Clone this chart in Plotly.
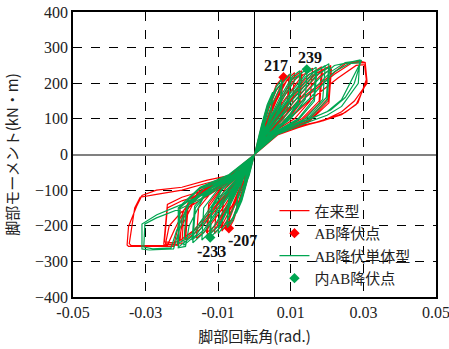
import plotly.graph_objects as go

# Hysteresis loops: (rotation angle [rad], moment [kN·m])
red_loop = [
    (0,0),(0.0015,60),(0.003,105),(0.0027,70),(0.0012,30),(0,0),(-0.0015,-55),(-0.003,-95),(-0.0027,-65),(-0.0012,-28),(0,0),
    (0.002,80),(0.0035,135),(0.005,170),(0.0046,115),(0.003,65),(0.0012,30),(0,0),(-0.002,-70),(-0.0035,-125),(-0.005,-160),(-0.0046,-110),(-0.003,-60),(-0.0012,-28),(0,0),
    (0.002,70),(0.004,140),(0.006,195),(0.0078,217),(0.0074,140),(0.006,100),(0.003,55),(0,0),(-0.002,-60),(-0.004,-130),(-0.0058,-185),(-0.007,-207),(-0.0067,-130),(-0.005,-90),(-0.0025,-50),(0,0),
    (0.002,65),(0.004,130),(0.006,180),(0.0078,205),(0.0073,135),(0.0058,95),(0.003,52),(0,0),(-0.002,-58),(-0.004,-122),(-0.0058,-175),(-0.0071,-198),(-0.0067,-125),(-0.005,-86),(-0.0025,-48),(0,0),
    (0.002,60),(0.005,140),(0.0075,200),(0.0095,224),(0.009,140),(0.007,100),(0.004,62),(0,0),(-0.002,-55),(-0.005,-130),(-0.0072,-190),(-0.009,-215),(-0.0086,-135),(-0.0065,-92),(-0.003,-55),(0,0),
    (0.002,57),(0.005,132),(0.0075,190),(0.0096,216),(0.0091,132),(0.007,95),(0.004,58),(0,0),(-0.002,-52),(-0.005,-122),(-0.0072,-180),(-0.0091,-208),(-0.0087,-128),(-0.0065,-88),(-0.003,-52),(0,0),
    (0.003,75),(0.006,150),(0.009,210),(0.011,230),(0.0105,145),(0.008,100),(0.004,60),(0,0),(-0.003,-65),(-0.006,-140),(-0.009,-200),(-0.011,-222),(-0.0105,-140),(-0.008,-95),(-0.004,-58),(0,0),
    (0.003,70),(0.007,150),(0.0105,215),(0.013,235),(0.0124,150),(0.009,100),(0.004,60),(0,0),(-0.003,-62),(-0.007,-140),(-0.0105,-205),(-0.013,-228),(-0.0125,-145),(-0.009,-95),(-0.004,-58),(0,0),
    (0.003,66),(0.007,142),(0.0105,205),(0.0131,226),(0.0125,142),(0.009,95),(0.004,57),(0,0),(-0.003,-58),(-0.007,-132),(-0.0105,-196),(-0.0132,-220),(-0.0126,-138),(-0.009,-90),(-0.004,-55),(0,0),
    (0.003,65),(0.008,150),(0.013,220),(0.016,242),(0.0153,150),(0.011,100),(0.005,62),(0,0),(-0.003,-58),(-0.008,-140),(-0.013,-210),(-0.016,-235),(-0.0154,-150),(-0.011,-95),(-0.005,-58),(0,0),
    (0.003,60),(0.009,150),(0.015,225),(0.0185,246),(0.0178,150),(0.013,100),(0.006,62),(0,0),(-0.003,-55),(-0.009,-135),(-0.015,-210),(-0.019,-240),(-0.0183,-150),(-0.013,-95),(-0.006,-58),(0,0),
    (0.003,57),(0.009,142),(0.015,215),(0.0187,238),(0.018,145),(0.013,95),(0.006,60),(0,0),(-0.003,-52),(-0.009,-128),(-0.015,-202),(-0.0192,-232),(-0.0185,-145),(-0.013,-90),(-0.006,-55),(0,0),
    (0.003,55),(0.01,150),(0.017,228),(0.021,250),(0.0205,160),(0.015,100),(0.007,65),(0,0),(-0.003,-52),(-0.01,-135),(-0.017,-215),(-0.021,-245),(-0.0205,-150),(-0.015,-95),(-0.007,-58),(0,0),
    (0.003,50),(0.011,150),(0.018,230),(0.021,248),(0.0203,150),(0.015,95),(0.007,62),(0,0),(-0.003,-50),(-0.012,-110),(-0.02,-160),(-0.0235,-200),(-0.0245,-250),(-0.022,-252),(-0.02,-250),(-0.0195,-170),(-0.015,-105),(-0.007,-62),(0,0),
    (0.003,48),(0.011,140),(0.018,220),(0.0212,240),(0.0205,145),(0.015,92),(0.007,60),(0,0),(-0.003,-48),(-0.012,-105),(-0.02,-130),(-0.024,-150),(-0.0248,-245),(-0.022,-248),(-0.0205,-240),(-0.0198,-160),(-0.015,-100),(-0.007,-60),(0,0),
    (0.004,55),(0.012,150),(0.02,215),(0.025,255),(0.029,262),(0.0305,258),(0.031,200),(0.0275,150),(0.024,120),(0.02,100),(0.012,75),(0.005,50),(0,0),
    (-0.004,-50),(-0.012,-95),(-0.02,-120),(-0.024,-140),(-0.025,-252),(-0.021,-255),(-0.02,-200),(-0.016,-120),(-0.008,-70),(0,0),
    (0.005,60),(0.014,160),(0.022,225),(0.027,258),(0.0305,257),(0.031,205),(0.028,140),(0.024,112),(0.018,92),(0.01,72),(0.004,45),(0,0),
    (-0.005,-55),(-0.013,-72),(-0.02,-92),(-0.027,-100),(-0.031,-115),(-0.0325,-146),(-0.0347,-202),(-0.0351,-254),(-0.0347,-258),(-0.028,-258),(-0.0223,-258),(-0.021,-200),(-0.017,-120),(-0.01,-75),(-0.004,-45),(0,0),
    (0.005,58),(0.015,150),(0.023,215),(0.028,250),(0.0303,252),(0.0308,210),(0.0285,145),(0.025,118),(0.019,95),(0.01,75),(0.004,45),(0,0),
    (-0.005,-60),(-0.013,-80),(-0.02,-100),(-0.027,-112),(-0.0315,-120),(-0.033,-150),(-0.0345,-250),(-0.034,-255),(-0.03,-256),(-0.024,-255),(-0.022,-210),(-0.018,-130),(-0.01,-78),(-0.004,-45),(0,0),
]

green_loop = [
    (0,0),(0.0015,65),(0.003,110),(0.0027,75),(0.0012,32),(0,0),(-0.0015,-60),(-0.003,-100),(-0.0027,-70),(-0.0012,-30),(0,0),
    (0.002,85),(0.0035,140),(0.005,175),(0.0046,120),(0.003,70),(0.0012,32),(0,0),(-0.002,-75),(-0.0035,-130),(-0.005,-165),(-0.0046,-115),(-0.003,-65),(-0.0012,-30),(0,0),
    (0.002,75),(0.004,145),(0.006,190),(0.0075,210),(0.007,135),(0.005,95),(0.0025,55),(0,0),(-0.002,-65),(-0.004,-135),(-0.006,-185),(-0.0075,-205),(-0.007,-130),(-0.005,-90),(-0.0025,-50),(0,0),
    (0.002,70),(0.004,135),(0.006,182),(0.0076,202),(0.0071,128),(0.005,90),(0.0025,52),(0,0),(-0.002,-62),(-0.004,-128),(-0.006,-178),(-0.0076,-198),(-0.0071,-125),(-0.005,-86),(-0.0025,-48),(0,0),
    (0.002,65),(0.005,145),(0.008,205),(0.01,228),(0.0095,145),(0.007,100),(0.0035,60),(0,0),(-0.002,-60),(-0.005,-135),(-0.008,-195),(-0.01,-222),(-0.0095,-140),(-0.007,-95),(-0.0035,-55),(0,0),
    (0.003,75),(0.007,160),(0.0105,220),(0.0125,235),(0.012,150),(0.009,100),(0.004,60),(0,0),(-0.003,-65),(-0.007,-150),(-0.010,-210),(-0.0122,-233),(-0.0117,-150),(-0.009,-100),(-0.004,-58),(0,0),
    (0.003,70),(0.007,150),(0.0105,212),(0.0127,226),(0.0121,145),(0.009,96),(0.004,58),(0,0),(-0.003,-62),(-0.007,-142),(-0.010,-202),(-0.0124,-225),(-0.0118,-145),(-0.009,-95),(-0.004,-55),(0,0),
    (0.003,70),(0.008,160),(0.012,222),(0.0145,240),(0.014,155),(0.010,100),(0.005,62),(0,0),(-0.003,-62),(-0.008,-150),(-0.012,-215),(-0.0145,-240),(-0.014,-150),(-0.010,-97),(-0.005,-58),(0,0),
    (0.003,65),(0.009,160),(0.014,225),(0.017,245),(0.0163,155),(0.012,100),(0.005,60),(0,0),(-0.003,-58),(-0.009,-145),(-0.014,-220),(-0.017,-248),(-0.0163,-150),(-0.012,-95),(-0.005,-58),(0,0),
    (0.003,62),(0.009,152),(0.014,218),(0.0172,238),(0.0165,150),(0.012,96),(0.005,58),(0,0),(-0.003,-55),(-0.009,-138),(-0.014,-212),(-0.0172,-240),(-0.0165,-145),(-0.012,-92),(-0.005,-55),(0,0),
    (0.003,60),(0.010,160),(0.016,228),(0.0195,250),(0.0188,155),(0.014,100),(0.006,62),(0,0),(-0.003,-55),(-0.010,-140),(-0.016,-225),(-0.0195,-255),(-0.0188,-150),(-0.014,-95),(-0.006,-58),(0,0),
    (0.003,55),(0.011,160),(0.017,232),(0.0205,255),(0.0198,160),(0.015,105),(0.007,65),(0,0),(-0.003,-52),(-0.011,-140),(-0.017,-228),(-0.021,-260),(-0.0205,-150),(-0.015,-95),(-0.007,-58),(0,0),
    (0.003,52),(0.011,150),(0.017,222),(0.0207,246),(0.02,152),(0.015,100),(0.007,62),(0,0),(-0.003,-50),(-0.011,-132),(-0.017,-220),(-0.0212,-252),(-0.0206,-145),(-0.015,-92),(-0.007,-56),(0,0),
    (0.004,55),(0.012,150),(0.018,215),(0.022,250),(0.029,265),(0.0286,200),(0.026,165),(0.024,135),(0.02,110),(0.014,88),(0.006,55),(0,0),
    (-0.004,-52),(-0.012,-100),(-0.018,-130),(-0.021,-150),(-0.021,-262),(-0.019,-258),(-0.018,-200),(-0.014,-120),(-0.007,-65),(0,0),
    (0.005,60),(0.014,160),(0.021,232),(0.025,258),(0.0295,264),(0.0263,200),(0.024,154),(0.02,120),(0.014,95),(0.008,75),(0.003,40),(0,0),
    (-0.005,-60),(-0.013,-108),(-0.02,-140),(-0.0269,-169),(-0.0292,-183),(-0.031,-195),(-0.031,-265),(-0.029,-268),(-0.0223,-265),(-0.021,-220),(-0.018,-140),(-0.01,-80),(-0.004,-45),(0,0),
    (0.005,58),(0.015,155),(0.022,232),(0.026,255),(0.0292,258),(0.0275,200),(0.025,160),(0.021,125),(0.015,98),(0.008,72),(0.003,40),(0,0),
    (-0.005,-62),(-0.013,-115),(-0.02,-150),(-0.027,-178),(-0.0302,-195),(-0.0305,-260),(-0.028,-265),(-0.023,-262),(-0.0215,-215),(-0.018,-135),(-0.01,-78),(-0.004,-45),(0,0),
]

red_yield_theta = [0.008, -0.00705]
red_yield_moment = [217, -207]
green_yield_theta = [0.0144, -0.0122]
green_yield_moment = [239, -233]

x_ticks = [-0.05, -0.03, -0.01, 0.01, 0.03, 0.05]
x_tick_labels = ["-0.05", "-0.03", "-0.01", "0.01", "0.03", "0.05"]
y_ticks = [-400, -300, -200, -100, 0, 100, 200, 300, 400]

RED = "#FF0000"
GREEN = "#00A651"
SERIF = "'Liberation Serif', 'Noto Sans CJK JP', serif"
CJK = "'Noto Sans CJK JP', sans-serif"

fig = go.Figure()
fig.add_trace(go.Scatter(x=[p[0] for p in red_loop], y=[p[1] for p in red_loop],
                         mode="lines", line=dict(color=RED, width=1.2), name="在来型"))
fig.add_trace(go.Scatter(x=red_yield_theta, y=red_yield_moment, mode="markers",
                         marker=dict(symbol="diamond", color=RED, size=8), name="AB降伏点"))
fig.add_trace(go.Scatter(x=[p[0] for p in green_loop], y=[p[1] for p in green_loop],
                         mode="lines", line=dict(color=GREEN, width=1.2), name="AB降伏単体型"))
fig.add_trace(go.Scatter(x=green_yield_theta, y=green_yield_moment, mode="markers",
                         marker=dict(symbol="diamond", color=GREEN, size=8), name="内AB降伏点"))

labels = [(0.0060, 250, "217"), (0.0153, 273, "239"), (-0.0033, -240, "-207"), (-0.0118, -271, "-233")]
for lx, ly, lt in labels:
    fig.add_annotation(x=lx, y=ly, text="<b>" + lt + "</b>", showarrow=False,
                       font=dict(family=SERIF, size=16, color="#111111"))

fig.update_layout(
    width=449, height=349,
    margin=dict(l=73, r=13, t=12, b=52),
    paper_bgcolor="white", plot_bgcolor="white",
    font=dict(family=SERIF, size=16, color="#222222"),
    showlegend=True,
    legend=dict(x=0.555, y=0.36, xanchor="left", yanchor="top",
                bgcolor="rgba(0,0,0,0)", font=dict(family=SERIF, size=15, color="#222222"),
                tracegroupgap=0, itemwidth=30),
)
fig.update_xaxes(range=[-0.05, 0.05], tickvals=x_ticks, ticktext=x_tick_labels, automargin=False,
                 ticklabeloverflow="allow",
                 tickfont=dict(family=SERIF, size=16, color="#222222"),
                 showgrid=True, gridcolor="black", griddash="dash", gridwidth=1,
                 zeroline=True, zerolinecolor="black", zerolinewidth=1,
                 showline=True, linecolor="black", linewidth=1.5, mirror=True, ticks="",
                 title=dict(text="脚部回転角(rad.)", font=dict(family=CJK, size=15, color="#222222"), standoff=12))
fig.update_yaxes(range=[-400, 400], tickvals=y_ticks, automargin=False,
                 ticklabeloverflow="allow",
                 tickfont=dict(family=SERIF, size=16, color="#222222"),
                 showgrid=True, gridcolor="black", griddash="dash", gridwidth=1,
                 zeroline=True, zerolinecolor="#808080", zerolinewidth=2,
                 showline=True, linecolor="black", linewidth=1.5, mirror=True, ticks="",
                 title=dict(text="脚部モーメント(kN・m)", font=dict(family=CJK, size=15, color="#222222"), standoff=13))

fig.write_html("out.html", config={"displayModeBar": False},
               post_script="document.body.style.margin='0px'; document.body.style.overflow='hidden';")
